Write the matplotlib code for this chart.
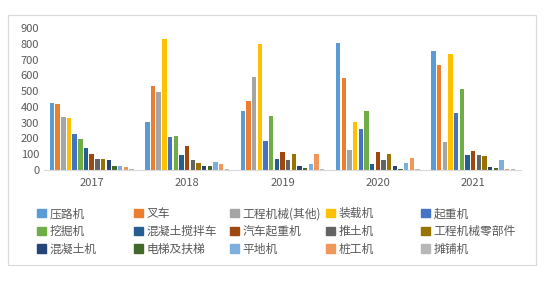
import numpy as np
import matplotlib
matplotlib.use('Agg')
import matplotlib.pyplot as plt
from matplotlib.patches import Rectangle, Patch

plt.rcParams['font.family'] = ['Noto Sans CJK SC', 'DejaVu Sans']

# 年份
years = ['2017', '2018', '2019', '2020', '2021']

# 各类机械 (图例顺序)
series_names = ['压路机', '叉车', '工程机械(其他)', '装载机', '起重机',
                '挖掘机', '混凝土搅拌车', '汽车起重机', '推土机', '工程机械零部件',
                '混凝土机', '电梯及扶梯', '平地机', '桩工机', '摊铺机']

colors = ['#5B9BD5', '#ED7D31', '#A5A5A5', '#FFC000', '#4472C4',
          '#70AD47', '#255E91', '#9E480E', '#636363', '#997300',
          '#264478', '#43682B', '#7CAFDD', '#F1975A', '#B7B7B7']

# 数值 (按年份: 2017..2021)
yalu = [423, 303, 375, 805, 754]
chache = [417, 534, 436, 580, 665]
gongcheng_qita = [335, 496, 591, 127, 176]
zhuangzai = [328, 832, 798, 307, 737]
qizhong = [229, 208, 182, 260, 362]
wajue = [195, 214, 341, 375, 512]
jiaoban = [142, 95, 68, 38, 93]
qiche_qizhong = [100, 152, 114, 114, 121]
tuitu = [68, 61, 61, 64, 93]
lingbujian = [68, 42, 100, 100, 87]
hunningtu = [61, 25, 25, 25, 21]
dianti = [25, 25, 15, 6, 13]
pingdi = [25, 49, 38, 44, 66]
zhuanggong = [19, 38, 100, 74, 6]
tanpu = [6, 4, 6, 4, 4]

values = [yalu, chache, gongcheng_qita, zhuangzai, qizhong,
          wajue, jiaoban, qiche_qizhong, tuitu, lingbujian,
          hunningtu, dianti, pingdi, zhuanggong, tanpu]

fig = plt.figure(figsize=(5.5, 2.81), dpi=100)
fig.patches.append(Rectangle((8 / 550, 1 - 265 / 281), 528 / 550, 250 / 281,
                             transform=fig.transFigure, fill=False,
                             edgecolor='#D9D9D9', linewidth=0.8))

ax = fig.add_axes([0.08, 1 - 170 / 281, 0.867, 142 / 281])

x = np.arange(len(years))
n = len(series_names)
slot = 0.0595
width = 0.046
for i in range(n):
    offset = (i - (n - 1) / 2) * slot
    ax.bar(x + offset, values[i], width, color=colors[i], label=series_names[i])

ax.set_xlim(-0.5, len(years) - 0.5)
ax.set_ylim(0, 900)
ax.set_yticks(range(0, 901, 100))
ax.set_xticks(x)
ax.set_xticklabels(years)
ax.tick_params(axis='both', length=0, labelsize=8, colors='#595959')
ax.tick_params(axis='x', pad=6)
for side in ['top', 'right', 'left']:
    ax.spines[side].set_visible(False)
ax.spines['bottom'].set_color('#D9D9D9')

# 图例: 5 列, 每列单独放置, 列宽相等
ncol = 5
nrow = 3
col_x = [29, 126, 222, 318, 413]
for c in range(ncol):
    idx = [r * ncol + c for r in range(nrow)]
    fig.legend([Patch(color=colors[k]) for k in idx], [series_names[k] for k in idx],
               ncol=1, loc='upper left',
               bbox_to_anchor=(col_x[c] / 550, 1 - 199 / 281),
               frameon=False, fontsize=8.5, handlelength=0.7, handleheight=0.7,
               handletextpad=0.35, labelspacing=0.4, borderpad=0.2,
               labelcolor='#595959')

fig.savefig('out.png', dpi=100)
